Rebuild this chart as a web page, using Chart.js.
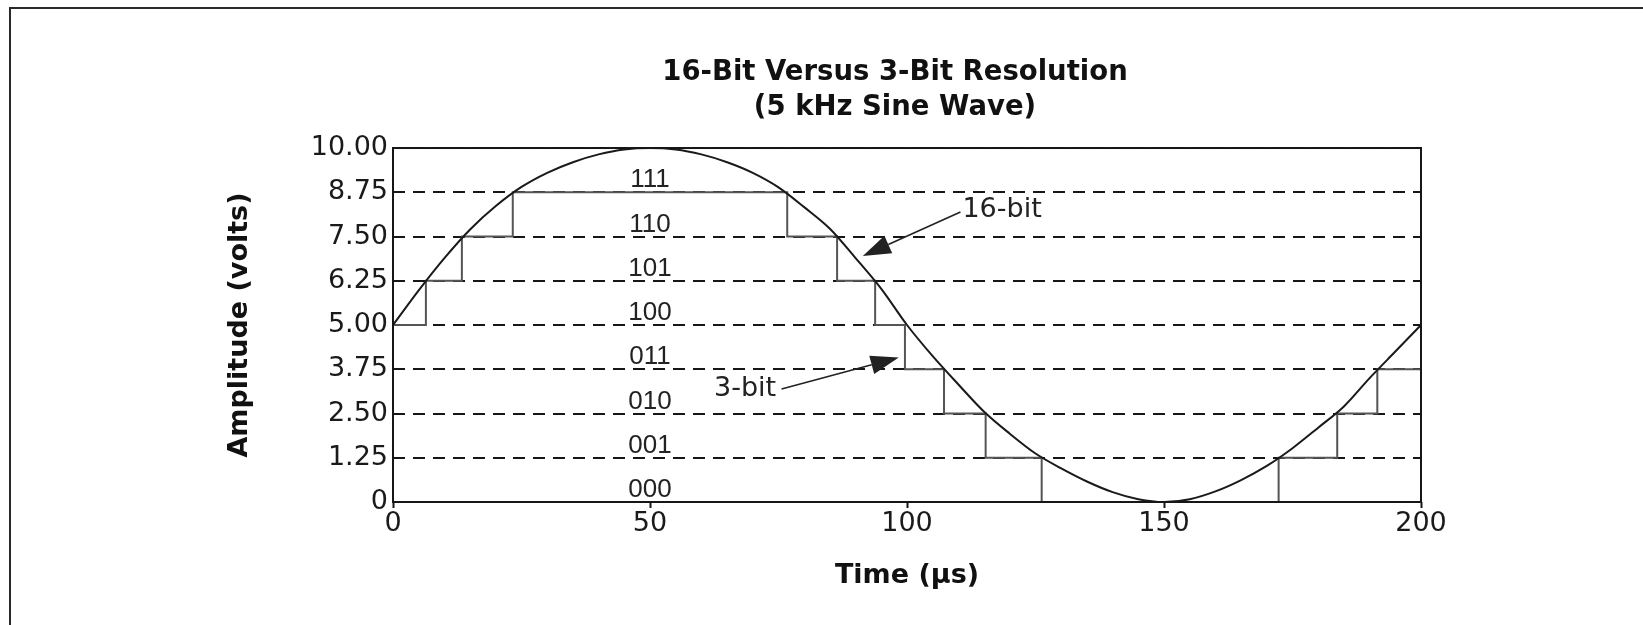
<!DOCTYPE html>
<html>
<head>
<meta charset="utf-8">
<script src="https://cdn.jsdelivr.net/npm/chart.js@4.4.1/dist/chart.umd.min.js"></script>
<style>
  body { margin: 0; background: #fff; overflow: hidden; }
  #wrap { position: relative; width: 1643px; height: 625px; }
  #frame {
    position: absolute; left: 9px; top: 7px; width: 1700px; height: 700px;
    border-top: 2px solid #2a2a2a; border-left: 2px solid #2a2a2a;
    pointer-events: none;
  }
</style>
</head>
<body>
<div id="wrap">
  <canvas id="resChart" width="1643" height="625"></canvas>
  <div id="frame"></div>
</div>
<script>
// ====================================
// = DATA    =
// ====================================
const timeUs = [0, 5, 10, 15, 20, 25, 30, 35, 40, 45, 50,
  55, 60, 65, 70, 75, 80, 85, 90, 95, 100,
  105, 110, 115, 120, 125, 130, 135, 140, 145, 150,
  155, 160, 165, 170, 175, 180, 185, 190, 195, 200];

// 16-bit trace (volts)
const amp16 = [5.00, 5.98, 6.89, 7.70, 8.36, 8.90, 9.30, 9.60, 9.82, 9.96, 10.00,
  9.96, 9.82, 9.60, 9.30, 8.89, 8.33, 7.72, 6.89, 6.02, 5.00,
  4.12, 3.32, 2.55, 1.93, 1.37, 0.95, 0.58, 0.28, 0.08, 0.00,
  0.08, 0.30, 0.62, 1.02, 1.52, 2.10, 2.70, 3.50, 4.25, 5.00];

// 3-bit staircase: time where each level starts, and the level
const stepTimes = [0, 6.4, 13.4, 23.3, 76.7, 86.4, 93.8, 99.6, 107.2, 115.3, 126.2, 172.3, 183.7, 191.5, 200];
const stepLevels = [5, 6.25, 7.5, 8.75, 7.5, 6.25, 5, 3.75, 2.5, 1.25, 0, 1.25, 2.5, 3.75, 3.75];

const yTicks = [0, 1.25, 2.5, 3.75, 5, 6.25, 7.5, 8.75, 10];
const xTicks = [0, 50, 100, 150, 200];

// code words sitting in each band, at t = 50
const codeWords = ["000", "001", "010", "011", "100", "101", "110", "111"];
const codeBands = [0, 1.25, 2.5, 3.75, 5, 6.25, 7.5, 8.75];
const codeTime = 50;

// callouts: label spot, arrow start, arrow tip (data units)
const noteText = ["16-bit", "3-bit"];
const noteAt = [[118.5, 8.25], [68.5, 3.19]];
const noteFrom = [[110.4, 8.19], [75.6, 3.19]];
const noteTip = [[91.4, 6.95], [98.4, 4.08]];

// ====================================
// = PLUGINS                          =
// ====================================
const ink = "#161616";

const framePlugin = {
  id: "frameAndNotes",
  afterDatasetsDraw(chart) {
    const { ctx, chartArea: a, scales } = chart;
    const sx = scales.x, sy = scales.y;
    ctx.save();

    // plot frame
    ctx.strokeStyle = ink;
    ctx.lineWidth = 2;
    ctx.strokeRect(a.left, a.top, a.right - a.left, a.bottom - a.top);

    // code words
    ctx.fillStyle = "#222";
    ctx.font = "26px 'Liberation Sans'";
    ctx.textAlign = "center";
    ctx.textBaseline = "middle";
    codeWords.forEach((w, i) => {
      ctx.fillText(w, sx.getPixelForValue(codeTime), sy.getPixelForValue(codeBands[i] + 0.34));
    });

    // callouts
    ctx.font = "27px 'DejaVu Sans'";
    noteText.forEach((t, i) => {
      ctx.fillText(t, sx.getPixelForValue(noteAt[i][0]), sy.getPixelForValue(noteAt[i][1]));
      const x0 = sx.getPixelForValue(noteFrom[i][0]), y0 = sy.getPixelForValue(noteFrom[i][1]);
      const x1 = sx.getPixelForValue(noteTip[i][0]), y1 = sy.getPixelForValue(noteTip[i][1]);
      const ang = Math.atan2(y1 - y0, x1 - x0);
      const len = 28, half = 9.5;
      const bx = x1 - len * Math.cos(ang), by = y1 - len * Math.sin(ang);
      ctx.strokeStyle = "#222";
      ctx.lineWidth = 1.6;
      ctx.beginPath();
      ctx.moveTo(x0, y0);
      ctx.lineTo(bx, by);
      ctx.stroke();
      ctx.beginPath();
      ctx.moveTo(x1, y1);
      ctx.lineTo(bx + half * Math.sin(ang), by - half * Math.cos(ang));
      ctx.lineTo(bx - half * Math.sin(ang), by + half * Math.cos(ang));
      ctx.closePath();
      ctx.fill();
    });
    ctx.restore();
  },
};

// ====================================
// = CHART                            =
// ====================================
Chart.defaults.font.family = "'DejaVu Sans'";
Chart.defaults.color = "#1a1a1a";

new Chart(document.getElementById("resChart").getContext("2d"), {
  type: "line",
  data: {
    datasets: [
      {
        label: "16-bit",
        data: timeUs.map((t, i) => ({ x: t, y: amp16[i] })),
        borderColor: "#1a1a1a",
        borderWidth: 2,
        pointRadius: 0,
        cubicInterpolationMode: "monotone",
        order: 0,
      },
      {
        label: "3-bit",
        data: stepTimes.map((t, i) => ({ x: t, y: stepLevels[i] })),
        borderColor: "#555",
        borderWidth: 2,
        pointRadius: 0,
        stepped: "before",
        order: 1,
      },
    ],
  },
  options: {
    responsive: false,
    animation: false,
    events: [],
    layout: { padding: { left: 147, right: 0, top: 0, bottom: 0 } },
    plugins: {
      legend: { display: false },
      tooltip: { enabled: false },
      title: {
        display: true,
        text: ["16-Bit Versus 3-Bit Resolution", "(5 kHz Sine Wave)"],
        font: { size: 27.5, weight: "bold", lineHeight: 1.255 },
        color: "#111",
        padding: { top: 56, bottom: 23 },
      },
    },
    scales: {
      x: {
        type: "linear",
        position: "bottom",
        min: 0,
        max: 200,
        afterBuildTicks: (s) => { s.ticks = xTicks.map((v) => ({ value: v })); },
        afterFit: (s) => { s.height = 123; },
        ticks: { font: { size: 27 }, padding: 0, color: "#1a1a1a" },
        grid: { drawOnChartArea: false, drawTicks: true, tickLength: 6, tickColor: ink, tickWidth: 2 },
        border: { display: false },
        title: {
          display: true,
          text: "Time (µs)",
          font: { size: 27, weight: "bold", lineHeight: 1.2 },
          padding: { top: 0, bottom: 33 },
          color: "#111",
        },
      },
      y: {
        type: "linear",
        position: "left",
        min: 0,
        max: 10,
        afterBuildTicks: (s) => { s.ticks = yTicks.map((v) => ({ value: v })); },
        afterFit: (s) => { s.width = 246; },
        ticks: {
          font: { size: 27 },
          padding: 5,
          color: "#1a1a1a",
          callback: (v) => (v === 0 ? "0" : v.toFixed(2)),
        },
        grid: { color: ink, lineWidth: 2, drawTicks: false },
        border: { display: false, dash: [12, 8] },
        title: {
          display: true,
          text: "Amplitude (volts)",
          font: { size: 27, weight: "bold", lineHeight: 1.2 },
          padding: { top: 77, bottom: 0 },
          color: "#111",
        },
      },
      // empty right box so the plot stops where the reference does
      y2: {
        type: "linear",
        position: "right",
        display: true,
        afterFit: (s) => { s.width = 222; },
        ticks: { display: false },
        grid: { display: false },
        border: { display: false },
      },
    },
  },
  plugins: [framePlugin],
});
</script>
</body>
</html>
